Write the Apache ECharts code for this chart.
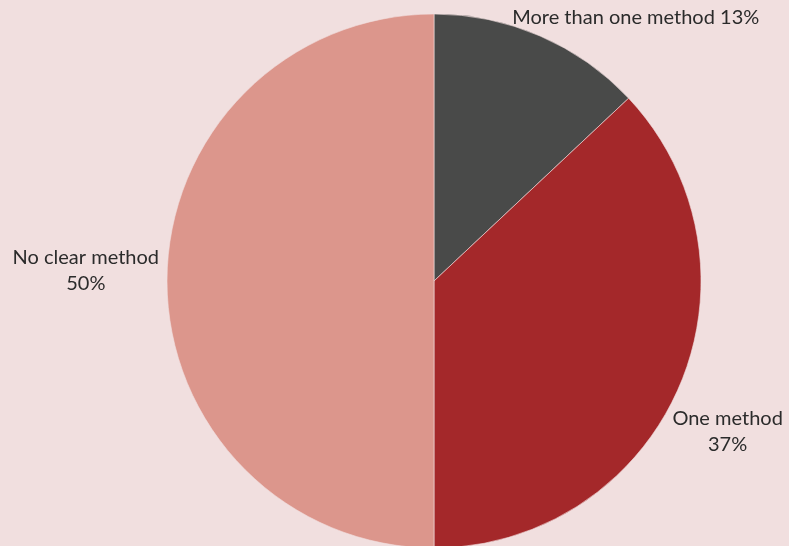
<!DOCTYPE html>
<html>
<head>
<meta charset="utf-8">
<script src="https://cdn.jsdelivr.net/npm/echarts@6/dist/echarts.min.js"></script>
<style>
html,body{margin:0;padding:0;background:#f1dfdf;}
#c{width:789px;height:546px;}
</style>
</head>
<body>
<div id="c"></div>
<script>
var categories = ['More than one method', 'One method', 'No clear method'];
var values = [13, 37, 50];
var colors = ['#494a49', '#a4282a', '#dc968c'];
var oneLine = [true, false, false];

var chart = echarts.init(document.getElementById('c'), null, {renderer: 'canvas'});
var data = categories.map(function (n, i) {
  return {
    name: n,
    value: values[i],
    itemStyle: {color: colors[i]},
    label: {
      formatter: oneLine[i] ? '{c|{b} {d}%}' : '{c|{b}}\n{c|{d}%}'
    }
  };
});
var nudges = [[-36, -11], [-19, 41], [5, -10]];
chart.setOption({
  backgroundColor: '#f1dfdf',
  animation: false,
  series: [{
    type: 'pie',
    center: [434, 281],
    radius: 267,
    startAngle: 90,
    clockwise: true,
    avoidLabelOverlap: false,
    itemStyle: {borderColor: '#f1dfdf', borderWidth: 0.6},
    label: {
      show: true,
      position: 'outside',
      color: '#2b2b2b',
      fontFamily: 'Lato',
      fontSize: 20,
      lineHeight: 26,
      rich: {
        c: {align: 'center', fontFamily: 'Lato', fontSize: 20, color: '#2b2b2b', lineHeight: 26}
      }
    },
    labelLine: {show: false, length: 8, length2: 0},
    labelLayout: function (p) {
      var n = nudges[p.dataIndex];
      return {dx: n[0], dy: n[1]};
    },
    data: data
  }]
});
</script>
</body>
</html>
